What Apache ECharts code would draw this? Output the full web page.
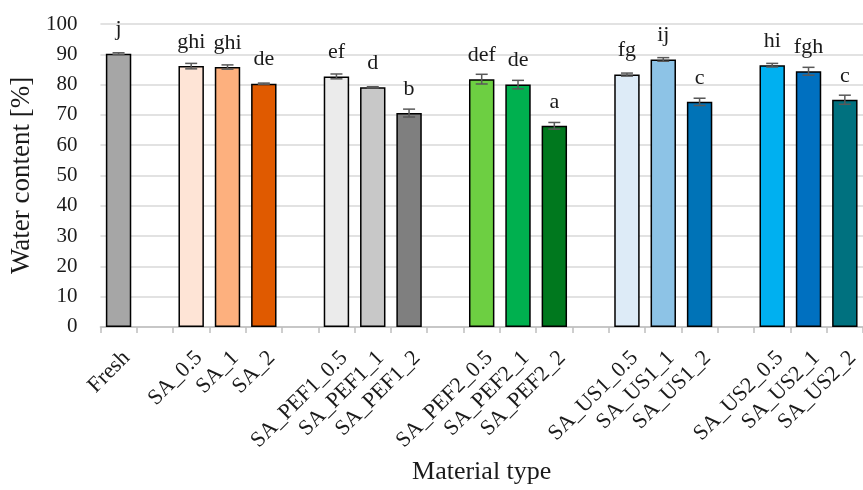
<!DOCTYPE html>
<html>
<head>
<meta charset="utf-8">
<script src="https://cdn.jsdelivr.net/npm/echarts@6/dist/echarts.min.js"></script>
<style>
  html, body { margin: 0; padding: 0; background: #ffffff; }
  #chart { width: 863px; height: 490px; }
</style>
</head>
<body>
<div id="chart"></div>
<script>
// Empty strings are spacer slots between treatment groups
var categories = ['Fresh', '', 'SA_0.5', 'SA_1', 'SA_2', '',
  'SA_PEF1_0.5', 'SA_PEF1_1', 'SA_PEF1_2', '',
  'SA_PEF2_0.5', 'SA_PEF2_1', 'SA_PEF2_2', '',
  'SA_US1_0.5', 'SA_US1_1', 'SA_US1_2', '',
  'SA_US2_0.5', 'SA_US2_1', 'SA_US2_2'];
var waterContent = [90.2, null, 86.1, 85.8, 80.3, null,
  82.7, 79.1, 70.6, null,
  81.8, 80.0, 66.4, null,
  83.3, 88.3, 74.3, null,
  86.4, 84.4, 75.0];
var stdDev = [0.3, null, 0.9, 0.7, 0.2, null,
  0.8, 0.2, 1.3, null,
  1.6, 1.4, 1.1, null,
  0.5, 0.6, 1.2, null,
  0.6, 1.3, 1.5];
var letters = ['j', '', 'ghi', 'ghi', 'de', '',
  'ef', 'd', 'b', '',
  'def', 'de', 'a', '',
  'fg', 'ij', 'c', '',
  'hi', 'fgh', 'c'];
var barColors = ['#a6a6a6', null, '#fee4d6', '#fdb07e', '#e05a00', null,
  '#ebebeb', '#c8c8c8', '#7f7f7f', null,
  '#6dcf42', '#00b04f', '#00781e', null,
  '#ddebf7', '#8dc3e6', '#0073b7', null,
  '#00b0f0', '#0070c0', '#00717f'];

var FONT = '"Liberation Serif", "Times New Roman", serif';

var barData = waterContent.map(function (v, i) {
  if (v === null) return '-';
  return {
    value: v,
    itemStyle: { color: barColors[i] },
    label: { formatter: letters[i] }
  };
});

var errData = waterContent.map(function (v, i) {
  return v === null ? [i, '-', '-'] : [i, v - stdDev[i], v + stdDev[i]];
});

var chart = echarts.init(document.getElementById('chart'), null, { renderer: 'canvas' });

chart.setOption({
  animation: false,
  backgroundColor: '#ffffff',
  grid: { left: 100, right: -13.5, top: 24, bottom: 163, containLabel: false },
  xAxis: {
    type: 'category',
    data: categories,
    boundaryGap: true,
    name: 'Material type',
    nameLocation: 'middle',
    nameGap: 132,
    nameTextStyle: { fontFamily: FONT, fontSize: 26, color: '#1a1a1a' },
    axisLine: { show: true, lineStyle: { color: '#bfbfbf', width: 1.5 } },
    axisTick: { show: true, alignWithLabel: false, length: 6, lineStyle: { color: '#bfbfbf', width: 1.5 } },
    axisLabel: {
      interval: 0, rotate: 45, margin: 20, verticalAlign: 'top',
      fontFamily: FONT, fontSize: 22, color: '#1a1a1a'
    },
    splitLine: { show: false }
  },
  yAxis: {
    type: 'value',
    min: 0, max: 100, interval: 10,
    name: 'Water content [%]',
    nameLocation: 'middle',
    nameRotate: 90,
    nameGap: 57,
    nameTextStyle: { fontFamily: FONT, fontSize: 27, color: '#1a1a1a' },
    axisLine: { show: false },
    axisTick: { show: false },
    axisLabel: { margin: 23, fontFamily: FONT, fontSize: 21, color: '#1a1a1a' },
    splitLine: { show: true, lineStyle: { color: '#d9d9d9', width: 1.5 } }
  },
  series: [
    {
      type: 'bar',
      data: barData,
      barWidth: '70%',
      itemStyle: { borderColor: '#000000', borderWidth: 1.5 },
      label: {
        show: true, position: 'top', distance: 13,
        fontFamily: FONT, fontSize: 22, color: '#1a1a1a'
      },
      z: 2
    },
    {
      type: 'custom',
      data: errData,
      encode: { x: 0, y: [1, 2] },
      z: 3,
      renderItem: function (params, api) {
        var lo = api.value(1), hi = api.value(2);
        if (lo === '-' || isNaN(lo)) return null;
        var p1 = api.coord([api.value(0), lo]);
        var p2 = api.coord([api.value(0), hi]);
        var hw = 6;
        var st = { stroke: '#595959', lineWidth: 1.5 };
        return {
          type: 'group',
          children: [
            { type: 'line', shape: { x1: p1[0], y1: p1[1], x2: p2[0], y2: p2[1] }, style: st },
            { type: 'line', shape: { x1: p1[0] - hw, y1: p1[1], x2: p1[0] + hw, y2: p1[1] }, style: st },
            { type: 'line', shape: { x1: p2[0] - hw, y1: p2[1], x2: p2[0] + hw, y2: p2[1] }, style: st }
          ]
        };
      }
    }
  ]
});
</script>
</body>
</html>
